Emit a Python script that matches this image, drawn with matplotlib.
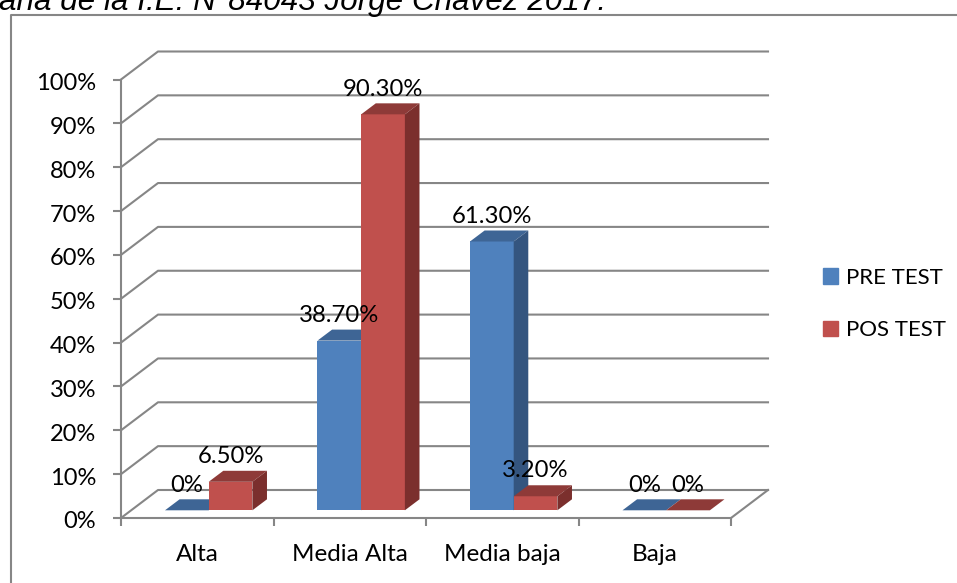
import matplotlib
matplotlib.use('Agg')
import matplotlib.pyplot as plt
from matplotlib.lines import Line2D
from matplotlib.patches import Patch
from matplotlib.transforms import ScaledTranslation

plt.rcParams['font.family'] = ['Lato', 'DejaVu Sans']

# Data
categories = ['Alta', 'Media Alta', 'Media baja', 'Baja']
pre_test = [0, 38.7, 61.3, 0]
pos_test = [6.5, 90.3, 3.2, 0]
pre_labels = ['0%', '38.70%', '61.30%', '0%']
pos_labels = ['6.50%', '90.30%', '3.20%', '0%']
y_ticks = [0, 10, 20, 30, 40, 50, 60, 70, 80, 90, 100]
y_labels = ['0%', '10%', '20%', '30%', '40%', '50%', '60%', '70%', '80%', '90%', '100%']
series_names = ['PRE TEST', 'POS TEST']
title_text = 'ana de la I.E. N°84043 Jorge Chavez 2017.'

# Colours
grey = '#868686'
blue, blue_top, blue_side = '#4F81BD', '#3E6595', '#34557F'
red, red_top, red_side = '#C0504D', '#8E3A38', '#7B2F2D'

W, H = 957, 583
fig = plt.figure(figsize=(W / 100, H / 100), dpi=100)
ax = fig.add_axes([121 / W, (H - 518) / H, 610 / W, 438.5 / H])
ax.set_xlim(0, 4)
ax.set_ylim(0, 100)

px_x = 4 / 610
px_y = 100 / 438.5

# Wall and floor depth
depth_x = 37 * px_x
depth_y = 28 * px_y
for v in y_ticks:
    ax.plot([0, depth_x, 4 + depth_x], [v, v + depth_y, v + depth_y],
            color=grey, lw=1.5, clip_on=False, zorder=1)
ax.plot([4, 4 + depth_x], [0, depth_y], color=grey, lw=1.5, clip_on=False, zorder=1)

# Bars
bar_w = 0.2865
bar_off = 0.2885
base = 7.7 * px_y
bar_dx = 14.6 * px_x
bar_dy = 11 * px_y


def draw_bar(x0, value, front, top, side, z):
    y1 = base + value
    x1 = x0 + bar_w
    ax.bar(x0, value, bar_w, bottom=base, align='edge', color=front, zorder=z, clip_on=False)
    ax.fill([x0, x1, x1 + bar_dx, x0 + bar_dx], [y1, y1, y1 + bar_dy, y1 + bar_dy],
            color=top, lw=0, zorder=z, clip_on=False)
    if value > 0:
        ax.fill([x1, x1 + bar_dx, x1 + bar_dx, x1], [base, base + bar_dy, y1 + bar_dy, y1],
                color=side, lw=0, zorder=z, clip_on=False)


for i in range(len(categories)):
    x_pre = i + bar_off
    x_pos = x_pre + bar_w
    draw_bar(x_pre, pre_test[i], blue, blue_top, blue_side, 2 + i)
    draw_bar(x_pos, pos_test[i], red, red_top, red_side, 2.5 + i)
    for x, val, lab in [(x_pre, pre_test[i], pre_labels[i]), (x_pos, pos_test[i], pos_labels[i])]:
        ax.annotate(lab, (x + bar_w / 2, base + val), xytext=(0, 18.2),
                    textcoords='offset points', ha='center', va='center',
                    fontsize=17.2, color='black', zorder=10, annotation_clip=False)

# Axes
ax.patch.set_visible(False)
for s in ['top', 'right']:
    ax.spines[s].set_visible(False)
for s in ['left', 'bottom']:
    ax.spines[s].set_color(grey)
    ax.spines[s].set_linewidth(1.5)
    ax.spines[s].set_zorder(1.5)
ax.set_yticks(y_ticks)
ax.set_yticklabels(y_labels, fontsize=17)
ax.tick_params(axis='y', length=6, width=1.5, color=grey, pad=12)
# nudge y labels down a little
shift = ScaledTranslation(0, -2 / 100, fig.dpi_scale_trans)
for lab in ax.get_yticklabels():
    lab.set_transform(lab.get_transform() + shift)
ax.set_xticks(range(5))
ax.set_xticklabels([])
ax.set_xticks([i + 0.5 for i in range(4)], minor=True)
ax.set_xticklabels(categories, minor=True, fontsize=17.5)
ax.tick_params(axis='x', which='major', length=6, width=1.5, color=grey)
ax.tick_params(axis='x', which='minor', length=0, pad=18.7)

# Legend
handles = [Patch(color=blue), Patch(color=red)]
fig.legend(handles, series_names, loc='center left', bbox_to_anchor=(803 / W, 1 - 304 / H),
           frameon=False, fontsize=16, handlelength=0.68, handleheight=0.68,
           handletextpad=0.36, labelspacing=1.45)

# Outer chart frame and clipped caption
fig.add_artist(Line2D([10.5 / W, 10.5 / W, 1], [0, 1 - 14.5 / H, 1 - 14.5 / H], color=grey, lw=1.5))
fig.text(-1 / W, 1 - 10 / H, title_text, family='Liberation Sans', style='italic',
         fontsize=22.6, va='baseline', ha='left')

fig.savefig('out.png', dpi=100)
